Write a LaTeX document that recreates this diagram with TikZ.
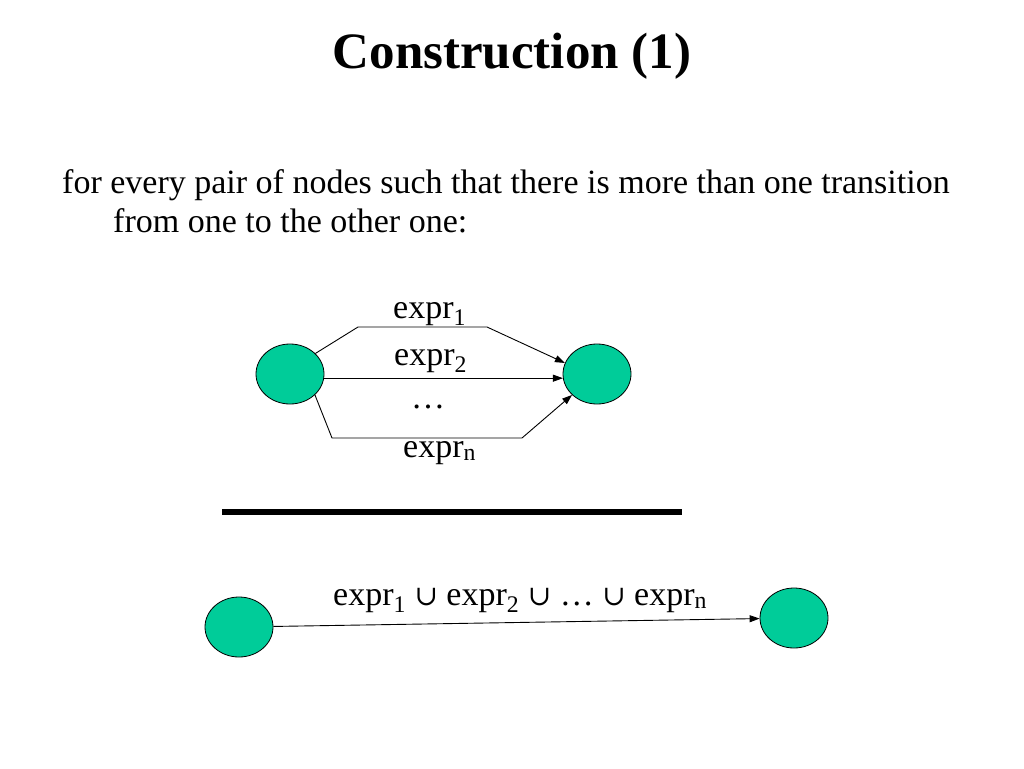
\documentclass[tikz,border=0pt]{standalone}
\usepackage{fontspec}
\setmainfont{Liberation Serif}
\newfontfamily\symfont{DejaVu Serif}
\usepackage{xcolor}
\definecolor{ink}{HTML}{000000}
\definecolor{sea}{HTML}{00CC99}
\usepackage{tikz}
\usetikzlibrary{arrows.meta,positioning,shapes.geometric}
\tikzset{
  >={Triangle[length=10pt,width=7pt]},
  state/.style={ellipse,draw=ink,line width=0.8pt,fill=sea,inner sep=0pt,
                minimum width=68pt,minimum height=60pt},
  trans/.style={->,line width=0.9pt,draw=ink},
  lbl/.style={anchor=base west,inner sep=0pt,font=\fontsize{34}{40}\selectfont},
  body/.style={anchor=base west,inner sep=0pt,font=\fontsize{34}{40}\selectfont},
}
\newcommand{\cupsym}{{\symfont\fontsize{28}{34}\selectfont\char"222A}}

\begin{document}
\begin{tikzpicture}[x=1pt,y=-1pt]
  \useasboundingbox (0,0) rectangle (1024,768);

  \node[anchor=base,inner sep=0pt,font=\fontsize{51}{60}\selectfont\bfseries] (title) at (512,68) {Construction (1)};
  \node[body] (line1) at (62,193) {for every pair of nodes such that there is more than one transition};
  \node[body] (line2) at (113,232) {from one to the other one:};

  % several transitions
  \node[state] (p) at (290,374) {};
  \node[state] (q) at (597,374) {};
  \coordinate (a1) at (358,327);
  \coordinate (a2) at (487,327);
  \coordinate (b1) at (332,438);
  \coordinate (b2) at (522,438);
  \draw[trans] (p.39) -- (a1) -- (a2) -- (q.161);
  \draw[trans] (p.-7) -- (q.187);
  \draw[trans] (p.-40) -- (b1) -- (b2) -- (q.220);
  \node[lbl] (e1) at (393,318) {expr\textsubscript{1}};
  \node[lbl] (e2) at (394,365) {expr\textsubscript{2}};
  \node[lbl] (dots) at (411,408) {…};
  \node[lbl] (en) at (403,457) {expr\textsubscript{n}};

  \draw[line width=6pt,draw=ink] (222,512) -- (682,512);

  % one transition
  \node[state] (s) at (239,627) {};
  \node[state] (t) at (794,618) {};
  \draw[trans] (s) -- (t);
  \node[lbl] (eall) at (333,605) {expr\textsubscript{1} \cupsym{} expr\textsubscript{2} \cupsym{} … \cupsym{} expr\textsubscript{n}};
\end{tikzpicture}
\end{document}
